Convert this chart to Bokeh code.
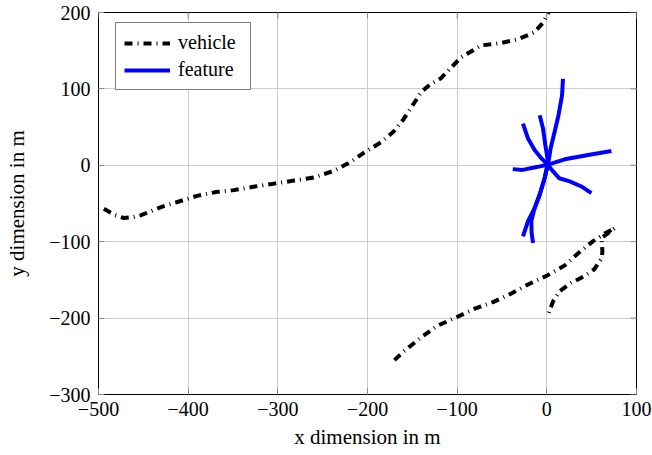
from bokeh.plotting import figure
from bokeh.models import Range1d, FixedTicker, Legend, LegendItem
from bokeh.embed import file_html
from bokeh.resources import INLINE
import math

# ---- data ----
veh_top_x = [-494, -482, -472, -462, -453, -431, -412, -390, -369, -349, -327, -304,
             -282, -260, -237, -218, -202, -185, -171, -160, -151, -140, -130, -118,
             -96, -73, -51, -32, -14, -4, 1, 2]
veh_top_y = [-57, -65, -69, -68, -65.5, -55, -48, -40, -35, -32.5, -28, -24,
             -20, -16, -7, 5, 18, 30, 44, 60, 76, 96, 106, 114,
             141, 157, 160, 165, 174, 187, 198, 200]

veh_bot_x = [-170, -159, -140, -122, -101, -81, -58, -40, -21, 1, 20, 35, 52, 65, 76,
             61, 62, 61, 53, 42, 27, 14, 7, 1]
veh_bot_y = [-255, -243, -225, -210, -199, -188, -178, -168, -156, -144, -131, -115,
             -99, -89, -82, -95, -113, -122, -136, -145, -154, -165, -178, -197]

feat1_x = [18, 17, 13, 8.7, 4.2, 1.3, -2.5, -8, -13.6, -21, -26.6]
feat1_y = [113, 91.7, 65.6, 44, 22, 0.5, -17, -38.5, -56, -73, -93]
feat2_x = [-26.6, -21, -13.6, -6, 1.3, 7, 14, 25.5, 38.5, 49.7]
feat2_y = [54.7, 35, 20, 9, 0.5, -8, -17, -21, -27.7, -36.5]
feat3_x = [-8, -4.2, -1.7, 1.3, -2.5, -8, -13.6, -17.3, -17, -15.4]
feat3_y = [65.6, 48, 26.6, 4.8, -17, -38.5, -56, -73, -88, -101.6]
feat4_x = [-38, -27, -10, 1.3, 20, 46, 72]
feat4_y = [-5, -6, -2, 1, 7.8, 13.5, 18.7]

x_ticks = [-500, -400, -300, -200, -100, 0, 100]
x_tick_labels = ["\u2212500", "\u2212400", "\u2212300", "\u2212200", "\u2212100", "0", "100"]
y_ticks = [-300, -200, -100, 0, 100, 200]
y_tick_labels = ["\u2212300", "\u2212200", "\u2212100", "0", "100", "200"]
x_min, x_max = -500, 100
y_min, y_max = -300, 200

SERIF = "serif"
TICK_COLOR = "#888888"

p = figure(width=652, height=455, output_backend="svg", toolbar_location=None,
           x_range=Range1d(x_min, x_max), y_range=Range1d(y_min, y_max),
           min_border_left=98, min_border_right=16, min_border_top=12, min_border_bottom=61)
p.background_fill_color = "white"
p.border_fill_color = "white"
p.outline_line_color = "black"
p.outline_line_width = 1
p.outline_line_alpha = 1

p.xaxis.ticker = FixedTicker(ticks=x_ticks)
p.yaxis.ticker = FixedTicker(ticks=y_ticks)
p.xaxis.major_label_overrides = dict(zip(x_ticks, x_tick_labels))
p.yaxis.major_label_overrides = dict(zip(y_ticks, y_tick_labels))
p.xgrid.ticker = FixedTicker(ticks=x_ticks)
p.ygrid.ticker = FixedTicker(ticks=y_ticks)
for g in (p.xgrid, p.ygrid):
    g.grid_line_color = "#cccccc"
    g.grid_line_width = 1

for ax in (p.xaxis[0], p.yaxis[0]):
    ax.axis_line_color = None
    ax.major_tick_in = 6
    ax.major_tick_out = 0
    ax.major_tick_line_color = TICK_COLOR
    ax.minor_tick_line_color = None
    ax.major_label_text_font = SERIF
    ax.major_label_text_font_size = "20px"
    ax.major_label_text_color = "black"
    ax.axis_label_text_font = SERIF
    ax.axis_label_text_font_size = "21px"
    ax.axis_label_text_font_style = "normal"
    ax.axis_label_text_color = "black"

p.xaxis.axis_label = "x dimension in m"
p.yaxis.axis_label = "y dimension in m"
p.xaxis.major_label_standoff = 7
p.xaxis.axis_label_standoff = 6
p.yaxis.major_label_standoff = 8
p.yaxis.axis_label_standoff = 17

# mirrored inward ticks on the right and top edges (half of each dash is clipped by the frame)
p.scatter([x_max] * len(y_ticks), y_ticks, marker="dash", size=12,
          line_color=TICK_COLOR, line_width=1)
p.scatter(x_ticks, [y_max] * len(x_ticks), marker="dash", size=12, angle=math.pi / 2,
          line_color=TICK_COLOR, line_width=1)

DASH = "8 5 1 5"
r_v1 = p.line(veh_top_x, veh_top_y, line_color="black", line_width=4, line_dash=DASH,
              line_join="miter")
r_v2 = p.line(veh_bot_x, veh_bot_y, line_color="black", line_width=4, line_dash=DASH,
              line_join="miter")
r_f = []
for fx, fy in ((feat1_x, feat1_y), (feat2_x, feat2_y), (feat3_x, feat3_y), (feat4_x, feat4_y)):
    r_f.append(p.line(fx, fy, line_color="#0000ff", line_width=4, line_join="round"))

legend = Legend(items=[LegendItem(label="vehicle", renderers=[r_v1]),
                       LegendItem(label="feature", renderers=[r_f[0]])])
legend.margin = 0
legend.location = (17, 304)
legend.padding = 8
legend.spacing = 4
legend.glyph_width = 46
legend.glyph_height = 20
legend.label_height = 20
legend.label_width = 64
legend.label_standoff = 8
legend.label_text_font = SERIF
legend.label_text_font_size = "20px"
legend.label_text_color = "black"
legend.border_line_color = "black"
legend.border_line_width = 1
legend.background_fill_color = "white"
legend.background_fill_alpha = 1
p.add_layout(legend, "center")

open("out.html", "w").write(file_html(p, INLINE))
